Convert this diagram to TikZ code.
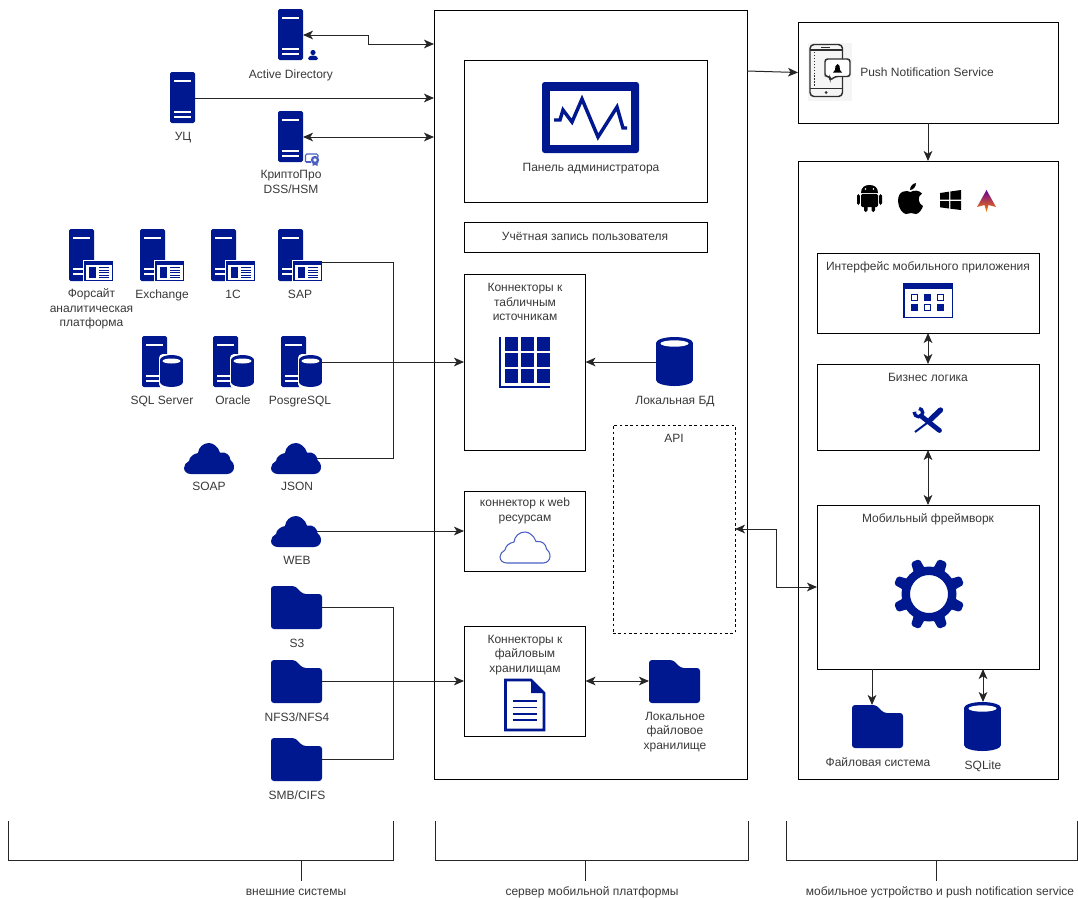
\documentclass[tikz,border=0pt]{standalone}
\usepackage{fontspec}
\setmainfont{Liberation Sans}
\usepackage{xcolor}
\usetikzlibrary{arrows.meta, fit, positioning}
\definecolor{navy}{HTML}{00188F}
\definecolor{softblue}{HTML}{4A5FC1}
\definecolor{inkgrey}{HTML}{2E2E2E}

\tikzset{
	multilbl/.style={font=\fontsize{9}{10.9}\selectfont, text=black!78, align=center, inner sep=0},
	lbl/.style={multilbl, text height=7.5pt, text depth=1.5pt},
	boxnode/.style={draw, line width=0.75pt, inner sep=0, outer sep=0},
	link/.style={line width=0.75pt, black!85},
	% значки, начало координат в левом верхнем углу
	towerpic/.pic={
		\fill[navy, rounded corners=1.2] (0,0) rectangle (25,51);
		\fill[white] (4,8) rectangle (21,10);
		\fill[white] (4,39) rectangle (21,41);
		\fill[white] (4,44) rectangle (21,46);
		\coordinate (-e) at (25,26);
	},
	appserverpic/.pic={
		\fill[navy, rounded corners=1.2] (0,0) rectangle (25,52);
		\fill[white] (4,8) rectangle (21,10);
		\fill[white] (4,39) rectangle (21,41);
		\fill[white] (4,44) rectangle (21,46);
		\fill[white] (14,31) rectangle (45,53);
		\fill[navy] (15,32) rectangle (44,52);
		\fill[white] (16.5,36) rectangle (42.5,50.5);
		\fill[navy] (20,38) rectangle (27,48.5);
		\foreach \y in {38,40.5,43,45.5,48}
			\fill[navy] (30,\y) rectangle (40,\y+1);
		\coordinate (-e) at (44,33);
	},
	dbserverpic/.pic={
		\fill[navy, rounded corners=1.2] (0,0) rectangle (25,51);
		\fill[white] (4,8) rectangle (21,10);
		\fill[white] (4,39) rectangle (21,41);
		\fill[white] (4,44) rectangle (21,46);
		\fill[white, rounded corners=3] (17,18) rectangle (42,52);
		\fill[navy] (29.5,24) ellipse [x radius=11.5, y radius=5];
		\fill[navy] (18,24) rectangle (41,46);
		\fill[navy] (29.5,46) ellipse [x radius=11.5, y radius=5];
		\fill[white] (29.5,25) ellipse [x radius=9, y radius=2.5];
		\coordinate (-e) at (41,26);
	},
	cylpic/.pic={
		\fill[navy] (18.5,6) ellipse [x radius=18.5, y radius=6];
		\fill[navy] (0,6) rectangle (37,43);
		\fill[navy] (18.5,43) ellipse [x radius=18.5, y radius=6];
		\fill[white] (18.5,6.5) ellipse [x radius=14, y radius=3.2];
		\coordinate (-w) at (0,25);
		\coordinate (-n) at (19,0);
	},
	folderpic/.pic={
		\fill[navy, rounded corners=2.2] (0,43) -- (0,0) -- (24,0) -- (32,8) -- (51,8) -- (51,43) -- cycle;
		\coordinate (-e) at (51,21);
		\coordinate (-w) at (0,21);
		\coordinate (-n) at (20,0);
	},
	cloudpic/.pic={
		\path[pic actions] (7,31) -- (43,31) .. controls (47,31) and (50,28) .. (50,24.5)
			.. controls (50,21) and (48.5,18.5) .. (46.5,17) .. controls (46,12) and (42,8.5) .. (36,9.5)
			.. controls (34,3.5) and (29,0) .. (25,0) .. controls (19,0) and (14.5,4.5) .. (14,10)
			.. controls (9,11) and (5.5,14) .. (5,18) .. controls (2,19.5) and (0,22) .. (0,25)
			.. controls (0,28.5) and (3,31) .. (7,31) -- cycle;
		\coordinate (-e) at (46,15);
	},
	gearpic/.pic={
		\fill[navy, even odd rule] (0,0) circle [radius=27.5] (0,0) circle [radius=19];
		\foreach \a in {22.5,67.5,...,337.5}
			\fill[navy, rotate=\a, rounded corners=1.5] (24,-6) -- (36,-4.6) -- (36,4.6) -- (24,6) -- cycle;
	},
	% ключевые стрелки
	>={Stealth[length=7.5pt, width=6.5pt, inset=2pt]}
}

\begin{document}
\begin{tikzpicture}[x=0.75pt, y=-0.75pt]
	\useasboundingbox (0,0) rectangle (1078,897);

	% сервер мобильной платформы
	\node[boxnode, fit={(434,10) (747,779)}] (server) {};
	\node[boxnode, fit={(464,60) (707,202)}] (admin) {};
	\node[boxnode, fit={(464,222) (707,252)}] (account) {};
	\node[boxnode, fit={(464,274) (585.5,450)}] (tabconn) {};
	\node[boxnode, fit={(464,491) (585.5,571)}] (webconn) {};
	\node[boxnode, fit={(464,626) (585.5,736)}] (fileconn) {};
	\node[boxnode, dashed, dash pattern=on 2pt off 2pt, fit={(613,425) (735,633)}] (api) {};

	% мобильное устройство
	\node[boxnode, fit={(798,22) (1058,123)}] (push) {};
	\node[boxnode, fit={(798,161) (1058,779)}] (mobile) {};
	\node[boxnode, fit={(817,253) (1039,333)}] (mobui) {};
	\node[boxnode, fit={(817,364) (1039,450)}] (logic) {};
	\node[boxnode, fit={(817,505) (1039,669)}] (framework) {};

	% внешние системы
	\pic (ad) at (278,9) {towerpic};
	\pic (ca) at (170,72) {towerpic};
	\pic (crypto) at (278,111) {towerpic};
	\pic (foresight) at (69,229) {appserverpic};
	\pic (exchange) at (140,229) {appserverpic};
	\pic (onec) at (211,229) {appserverpic};
	\pic (sap) at (278,229) {appserverpic};
	\pic (mssql) at (142,336) {dbserverpic};
	\pic (oracle) at (213,336) {dbserverpic};
	\pic (pgsql) at (281,336) {dbserverpic};
	\pic[fill=navy] (soap) at (184,443) {cloudpic};
	\pic[fill=navy] (json) at (271,443) {cloudpic};
	\pic[fill=navy] (web) at (271,516) {cloudpic};
	\pic (sthree) at (271,586) {folderpic};
	\pic (nfs) at (271,660) {folderpic};
	\pic (smb) at (271,738) {folderpic};

	% значок пользователя
	\fill[navy] (313,52.5) circle [radius=2.6];
	\fill[navy, rounded corners=1] (308,60) -- (308,57.5) -- (311,55.5) -- (315,55.5) -- (318,57.5) -- (318,60) -- cycle;
	% значок сертификата
	\draw[softblue, line width=0.8pt, rounded corners=1] (305.5,162) -- (305.5,154) -- (318,154) -- (318,157);
	\draw[softblue, line width=0.8pt] (305.5,162) -- (311,162);
	\fill[softblue] (315,160) circle [radius=4.2];
	\fill[white] (315,160) circle [radius=1.8];
	\fill[softblue] (312.5,163) -- (317.5,163) -- (317.5,166) -- (315,164.8) -- (312.5,166) -- cycle;

	% панель администратора
	\fill[navy, rounded corners=2] (542,82) rectangle (639,153);
	\fill[white] (550,91) rectangle (631,145);
	\draw[navy, line width=2.6pt, line join=miter] (554,120) -- (560,120) -- (563,110) -- (572,122) -- (582,99) -- (598,137) -- (617,107) -- (623,128) -- (627,128);

	% таблица
	\fill[navy] (499,337) rectangle (501,388);
	\fill[navy] (499,386) rectangle (550,388);
	\foreach \x in {505,521,537}
		\foreach \y in {337,353,369}
			\fill[navy] (\x,\y) rectangle (\x+13,\y+13.5);
	\pic (localdb) at (656,337) {cylpic};

	% облако в коннекторе
	\pic[draw=softblue, line width=0.8pt] (webcloud) at (500,532) {cloudpic};

	% документ
	\draw[navy, line width=1.9pt, line join=miter] (505.5,680) -- (531,680) -- (544,693) -- (544,730) -- (505.5,730) -- cycle;
	\fill[navy] (531,680) -- (544,693) -- (531,693) -- cycle;
	\foreach \y in {701,707.5,714,720}
		\fill[navy] (513,\y-0.9) rectangle (537,\y+0.9);
	\pic (localfiles) at (649,660) {folderpic};

	% значок уведомлений
	\fill[black!4] (808,43) rectangle (852,101);
	\draw[inkgrey, line width=1.1pt, rounded corners=3] (810,44.5) rectangle (842.5,96.5);
	\draw[inkgrey, line width=1pt] (810,50) -- (842.5,50);
	\draw[inkgrey, line width=1pt] (810,88.5) -- (842.5,88.5);
	\draw[inkgrey, line width=1pt] (821,47.2) -- (830,47.2);
	\fill[inkgrey] (826,92.5) circle [radius=1.5];
	\draw[inkgrey, line width=1pt, dash pattern=on 1pt off 1.2pt] (814.5,52) -- (814.5,86);
	\draw[inkgrey, fill=white, line width=1.1pt, rounded corners=2] (825,59) -- (850,59) -- (850,76.5) -- (835,76.5) -- (830,80.5) -- (830,76.5) -- (825,76.5) -- cycle;
	\fill[black] (833,72.5) -- (835,70) -- (835.5,66) -- (837.5,64) -- (839.5,66) -- (840,70) -- (842,72.5) -- cycle;

	% андроид
	\fill[black] (861,193) .. controls (861,187) and (865,185) .. (869.5,185) .. controls (874,185) and (878,187) .. (878,193) -- cycle;
	\fill[white] (865.5,189) circle [radius=0.8];
	\fill[white] (873.5,189) circle [radius=0.8];
	\fill[black, rounded corners=1] (861,194) rectangle (878,207);
	\fill[black, rounded corners=1.2] (857,194) rectangle (859.8,205);
	\fill[black, rounded corners=1.2] (879.2,194) rectangle (882,205);
	\fill[black, rounded corners=1.2] (864,204) rectangle (867.5,212);
	\fill[black, rounded corners=1.2] (871.5,204) rectangle (875,212);
	% яблоко
	\fill[black] (910,190) .. controls (910,186) and (913,183.5) .. (916,183) .. controls (916,187) and (913,190) .. (910,190) -- cycle;
	\fill[black] (910.5,192) .. controls (907,190) and (898,190) .. (898,201) .. controls (898,208) and (903,214) .. (906,214)
		.. controls (908,214) and (909,213) .. (911,213) .. controls (913,213) and (914,214) .. (916,214)
		.. controls (919,214) and (922,209) .. (923,206) .. controls (918,204) and (917,196) .. (922,193.5)
		.. controls (919,190) and (914,190) .. (910.5,192) -- cycle;
	% окна
	\fill[black] (940,193) -- (949,191.7) -- (949,199.5) -- (940,199.5) -- cycle;
	\fill[black] (950.3,191.5) -- (961,190) -- (961,199.5) -- (950.3,199.5) -- cycle;
	\fill[black] (940,201) -- (949,201) -- (949,208.5) -- (940,207.3) -- cycle;
	\fill[black] (950.3,201) -- (961,201) -- (961,210) -- (950.3,208.7) -- cycle;
	% аврора
	\shade[top color=violet!80!blue, middle color=purple!80!magenta, bottom color=orange] (986.5,190) -- (996,207) -- (988.5,205) -- (986.5,212) -- (984.5,205) -- (977,207) -- cycle;

	% интерфейс приложения
	\fill[navy] (903,283) rectangle (953,318);
	\fill[white] (904.5,289) rectangle (951.5,316.5);
	\foreach \x/\y in {924/294, 911/304, 937/304}
		\fill[navy] (\x,\y) rectangle (\x+7,\y+7);
	\foreach \x/\y in {911/294, 937/294, 924/304}
		\draw[navy, line width=0.6pt] (\x+0.5,\y+0.5) rectangle (\x+6.5,\y+6.5);

	% инструменты
	\draw[navy, line width=1.5pt] (931,420) -- (915,432);
	\draw[navy, line width=4pt, line cap=round] (930.5,419.5) -- (940.5,410);
	\draw[navy, line width=3.6pt, line cap=round] (921,416) -- (939.5,430.5);
	\draw[navy, line width=2.5pt] (918.5,412.5) circle [radius=4.2];
	\fill[white] (917.5,411.5) -- (911,412) -- (913,405) -- (921,404) -- cycle;

	\pic at (929,594) {gearpic};
	\pic (mobfiles) at (852,705) {folderpic};
	\pic (sqlite) at (964,702) {cylpic};

	% подписи
	\node[lbl] (adlbl) at (291,74) {Active Directory};
	\node[lbl] (calbl) at (183,136) {УЦ};
	\node[multilbl] (cryptolbl) at (291,182) {КриптоПро\\DSS/HSM};
	\node[multilbl] (foresightlbl) at (91.5,309) {Форсайт\\аналитическая\\платформа};
	\node[lbl] (exchangelbl) at (162,294) {Exchange};
	\node[lbl] (oneclbl) at (233,294) {1C};
	\node[lbl] (saplbl) at (300,294) {SAP};
	\node[lbl] (mssqllbl) at (162,400) {SQL Server};
	\node[lbl] (oraclelbl) at (233,400) {Oracle};
	\node[lbl] (pgsqllbl) at (300,400) {PosgreSQL};
	\node[lbl] (soaplbl) at (209,486) {SOAP};
	\node[lbl] (jsonlbl) at (297,486) {JSON};
	\node[lbl] (weblbl) at (297,560) {WEB};
	\node[lbl] (sthreelbl) at (297,643) {S3};
	\node[lbl] (nfslbl) at (297,717) {NFS3/NFS4};
	\node[lbl] (smblbl) at (297,795) {SMB/CIFS};
	\node[lbl] (adminlbl) at (591,167) {Панель администратора};
	\node[lbl] (accountlbl) at (585,236) {Учётная запись пользователя};
	\node[multilbl] (tabconnlbl) at (525,302) {Коннекторы к\\табличным\\источникам};
	\node[lbl] (localdblbl) at (675,400) {Локальная БД};
	\node[lbl] (apilbl) at (674,438) {API};
	\node[multilbl] (webconnlbl) at (525,511) {коннектор к web\\ресурсам};
	\node[multilbl] (fileconnlbl) at (525,655) {Коннекторы к\\файловым\\хранилищам};
	\node[multilbl] (localfileslbl) at (675,732) {Локальное\\файловое\\хранилище};
	\node[lbl] (pushlbl) at (927,72) {Push Notification Service};
	\node[lbl] (mobuilbl) at (928,266) {Интерфейс мобильного приложения};
	\node[lbl] (logiclbl) at (928,377) {Бизнес логика};
	\node[lbl] (frameworklbl) at (928,518) {Мобильный фреймворк};
	\node[lbl] (mobfileslbl) at (878,762) {Файловая система};
	\node[lbl] (sqlitelbl) at (983,765) {SQLite};
	\node[lbl] (extlbl) at (296,891) {внешние системы};
	\node[lbl] (srvlbl) at (592,891) {сервер мобильной платформы};
	\node[lbl] (devlbl) at (940,891) {мобильное устройство и push notification service};

	% соединения
	\coordinate (adport) at (434,44);
	\coordinate (caport) at (434,98);
	\coordinate (cryptoport) at (434,137);
	\coordinate (pushport) at (747,71);
	\coordinate (tabjoin) at (393,362);
	\coordinate (filejoin) at (393,681);
	\draw[link, <->] (ad-e) -- ++(65,0) |- (adport);
	\draw[link, ->] (ca-e) -- (caport);
	\draw[link, <->] (crypto-e) -- (cryptoport);
	\draw[link] (sap-e) -| (tabjoin);
	\draw[link] (json-e) -| (tabjoin);
	\draw[link, ->] (pgsql-e) -- (tabconn.west);
	\draw[link, ->] (web-e) -- (webconn.west);
	\draw[link] (sthree-e) -| (filejoin);
	\draw[link] (smb-e) -| (filejoin);
	\draw[link, ->] (nfs-e) -- (fileconn.west);
	\draw[link, ->] (localdb-w) -- (tabconn.east);
	\draw[link, <->] (fileconn.east) -- (localfiles-w);
	\draw[link, ->] (pushport) -- (push.west);
	\draw[link, ->] (push.south) -- (mobile.north);
	\draw[link, <->] (mobui.south) -- (logic.north);
	\draw[link, <->] (logic.south) -- (framework.north);
	\draw[link, <->] (api.east) -- ++(41,0) |- (framework.west);
	\draw[link, ->] (framework.south -| mobfiles-n) -- (mobfiles-n);
	\draw[link, <->] (framework.south -| sqlite-n) -- (sqlite-n);

	% скобки снизу
	\coordinate (exta) at (8,821);
	\coordinate (extb) at (393.5,821);
	\coordinate (extc) at (301.5,860.5);
	\coordinate (srva) at (435.5,821);
	\coordinate (srvb) at (748,821);
	\coordinate (srvc) at (585.5,860.5);
	\coordinate (deva) at (786.5,821);
	\coordinate (devb) at (1077.5,821);
	\coordinate (devc) at (936,860.5);
	\draw[link] (exta) -- ++(0,39.5) -| (extb);
	\draw[link] (extc) -- ++(0,20);
	\draw[link] (srva) -- ++(0,39.5) -| (srvb);
	\draw[link] (srvc) -- ++(0,20);
	\draw[link] (deva) -- ++(0,39.5) -| (devb);
	\draw[link] (devc) -- ++(0,20);
\end{tikzpicture}
\end{document}
